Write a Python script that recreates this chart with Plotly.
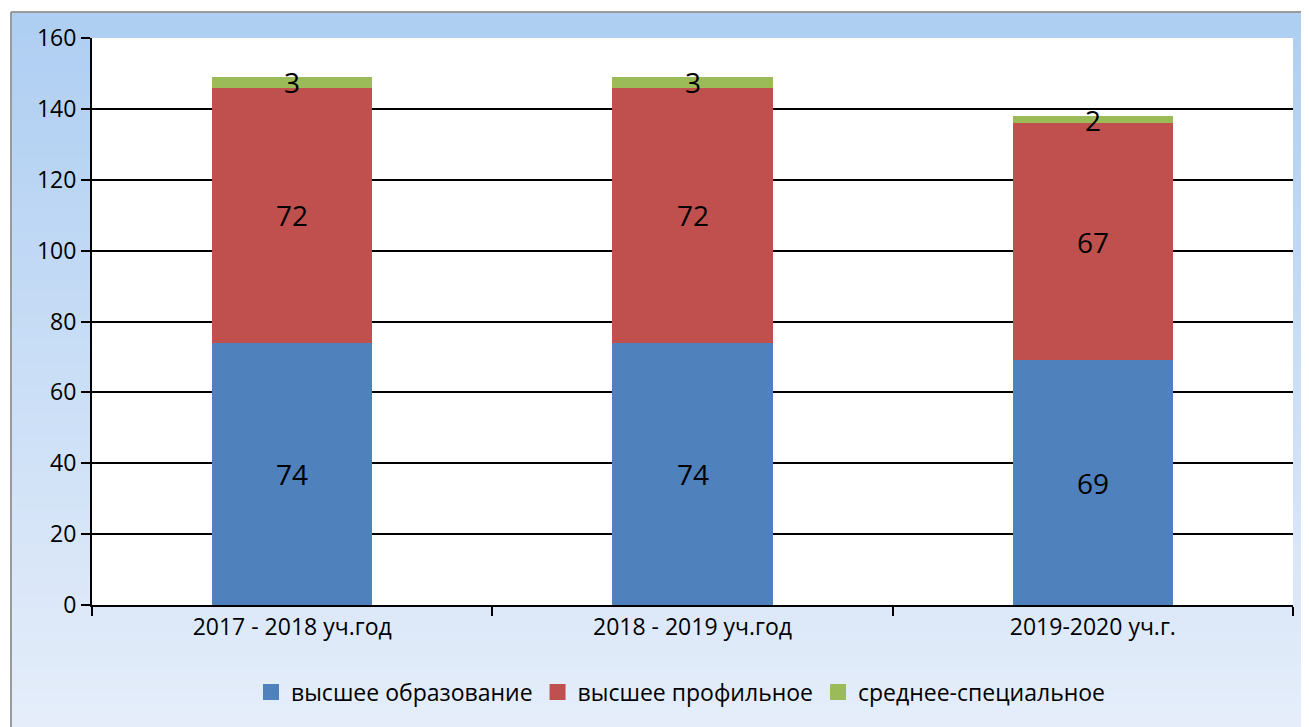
import plotly.graph_objects as go

categories = ["2017 - 2018 уч.год", "2018 - 2019 уч.год", "2019-2020 уч.г."]
series_names = ["высшее образование", "высшее профильное", "среднее-специальное"]
higher = [74, 74, 69]
higher_prof = [72, 72, 67]
secondary = [3, 3, 2]
y_ticks = [0, 20, 40, 60, 80, 100, 120, 140, 160]

colors = ["#4F81BD", "#C0504D", "#9BBB59"]
series = [higher, higher_prof, secondary]

# page has an 8px body margin; figure placed at (8, 8)
OFF = 8
W, H = 1309 - OFF, 727 - OFF
L, R, T, B = 92 - OFF, 16, 38 - OFF, 122
pw, ph = W - L - R, H - T - B
FONT = "Open Sans"

def px_x(p):  # page pixel -> paper
    return (p - OFF - L) / pw

def px_y(p):
    return (H - B - (p - OFF)) / ph

fig = go.Figure()
for name, vals, c in zip(series_names, series, colors):
    fig.add_trace(go.Bar(x=categories, y=vals, name=name, marker_color=c,
                         marker_line_width=0, showlegend=False))
# legend entries with larger square swatches
for name, c in zip(series_names, colors):
    fig.add_trace(go.Scatter(x=[None], y=[None], mode="markers", name=name,
                             marker=dict(symbol="square", size=17, color=c),
                             showlegend=True))

# data labels centred in each segment
annotations = []
base = [0] * len(categories)
for vals in series:
    for i, v in enumerate(vals):
        annotations.append(dict(x=categories[i], y=base[i] + v / 2, text=str(v),
                                showarrow=False, xref="x", yref="y",
                                font=dict(size=28, color="black", family=FONT)))
        base[i] += v

# gradient frame background
shapes = []
n = 60
top_c = (174, 206, 242)
bot_c = (230, 238, 250)
y0p, y1p = 12, 740
for k in range(n):
    a = y0p + (y1p - y0p) * k / n
    b = y0p + (y1p - y0p) * (k + 1) / n + 2
    t = k / (n - 1)
    col = tuple(round(top_c[j] + (bot_c[j] - top_c[j]) * t) for j in range(3))
    shapes.append(dict(type="rect", xref="paper", yref="paper", layer="below",
                       x0=px_x(11), x1=px_x(1330), y0=px_y(b), y1=px_y(a),
                       fillcolor="rgb(%d,%d,%d)" % col, line_width=0))
# frame border
shapes.append(dict(type="line", xref="paper", yref="paper", layer="below",
                   x0=px_x(11), x1=px_x(11), y0=px_y(12), y1=px_y(740),
                   line=dict(color="#9a9a9a", width=2)))
shapes.append(dict(type="line", xref="paper", yref="paper", layer="below",
                   x0=px_x(11), x1=px_x(1330), y0=px_y(12), y1=px_y(12),
                   line=dict(color="#9a9a9a", width=2)))
# white plot area
shapes.append(dict(type="rect", xref="paper", yref="paper", layer="below",
                   x0=0, x1=1, y0=0, y1=1, fillcolor="white", line_width=0))

fig.update_layout(
    width=W, height=H,
    margin=dict(l=L, r=R, t=T, b=B),
    paper_bgcolor="white", plot_bgcolor="rgba(0,0,0,0)",
    barmode="stack", bargap=0.6,
    font=dict(family=FONT, size=23, color="black"),
    shapes=shapes, annotations=annotations,
    legend=dict(orientation="h", x=px_x(681), xanchor="center", y=px_y(692),
                yanchor="middle", bgcolor="rgba(0,0,0,0)", font=dict(size=23),
                traceorder="normal", itemwidth=30, tracegroupgap=0),
    showlegend=True,
)
fig.update_xaxes(showline=True, linecolor="black", linewidth=2,
                 ticks="outside", tickson="boundaries", ticklen=9,
                 tickcolor="black", tickwidth=1.5, showgrid=False,
                 tickfont=dict(size=23))
fig.update_yaxes(range=[0, 160], tickvals=y_ticks, showline=True, linecolor="black",
                 linewidth=2, ticks="outside", ticklen=9, tickcolor="black",
                 tickwidth=1.5, showgrid=True, gridcolor="black", gridwidth=2,
                 zeroline=False, tickfont=dict(size=23))

fig.write_html("out.html")
